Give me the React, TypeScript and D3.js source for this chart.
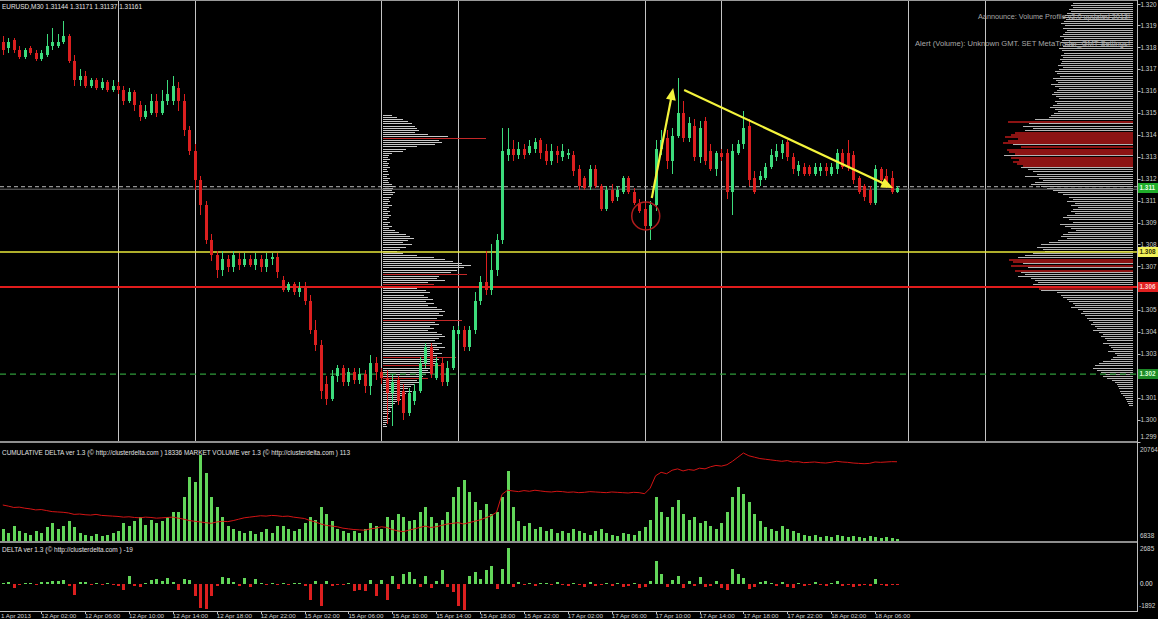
import React from "react";
import * as d3 from "d3";

// ---------- DATA ----------
const opens = [
  1.3186,1.3183,1.3187,1.3182,1.3179,1.3183,1.3181,1.3178,1.3180,1.3184,1.3184,1.3186,1.3189,
  1.3177,1.3168,1.3170,1.3165,1.3168,1.3164,1.3167,1.3163,1.3165,1.3163,1.3158,1.3162,1.3156,1.3150,1.3152,1.3158,1.3152,1.3158,1.3158,1.3164,
  1.3158,1.3144,1.3134,1.3120,1.3108,1.3091,1.3084,1.3077,1.3082,1.3078,1.3082,1.3079,1.3082,1.3079,1.3082,1.3078,1.3082,1.3083,
  1.3072,1.3067,1.3070,1.3066,1.3068,1.3062,1.3048,1.3041,1.3022,1.3015,1.3026,1.3030,1.3023,1.3028,1.3024,1.3027,
  1.3021,1.3032,1.3028,1.3025,1.3018,1.3024,1.3019,1.3008,1.3014,1.3019,1.3032,1.3040,1.3025,1.3032,1.3023,1.3030,1.3046,1.3048,1.3040,1.3048,1.3062,1.3071,1.3067,1.3077,
  1.3091,1.3132,1.3135,1.3132,1.3135,1.3133,1.3135,1.3139,1.3134,1.3129,1.3134,
  1.3131,1.3132,1.3132,1.3125,1.3121,1.3117,1.3125,1.3117,1.3106,1.3115,1.3112,1.3114,1.3121,1.3114,1.3109,1.3106,
  1.3098,1.3108,1.3135,1.3140,1.3129,1.3141,1.3152,1.3140,1.3146,1.3131,1.3148,1.3134,1.3125,1.3133,1.3133,1.3114,1.3133,1.3137,1.3146,1.3121,
  1.3120,1.3121,1.3126,1.3131,1.3133,1.3138,1.3131,1.3124,1.3126,1.3126,1.3123,1.3124,1.3126,1.3123,1.3125,1.3133,1.3133,1.3132,1.3121,1.3117,1.3115,1.3109,1.3125,1.3122,1.3121,1.31144,
];
const highs = [
  1.3189,1.3188,1.3188,1.3184,1.3183,1.3184,1.3182,1.3182,1.3190,1.3193,1.3190,1.3196,1.3190,
  1.3180,1.3173,1.3172,1.3169,1.3169,1.3169,1.3168,1.3168,1.3167,1.3165,1.3164,1.3163,1.3158,1.3156,1.3161,1.3161,1.3163,1.3168,1.3170,1.3167,
  1.3161,1.3146,1.3137,1.3122,1.3110,1.3094,1.3086,1.3086,1.3084,1.3086,1.3085,1.3085,1.3084,1.3085,1.3084,1.3085,1.3085,1.3085,
  1.3074,1.3071,1.3071,1.3071,1.3071,1.3065,1.3053,1.3043,1.3026,1.3029,1.3031,1.3031,1.3030,1.3030,1.3030,1.3029,
  1.3036,1.3035,1.3030,1.3029,1.3027,1.3026,1.3022,1.3020,1.3022,1.3035,1.3042,1.3042,1.3035,1.3035,1.3033,1.3050,1.3050,1.3050,1.3050,1.3066,1.3074,1.3086,1.3089,1.3094,
  1.3145,1.3145,1.3139,1.3138,1.3137,1.3139,1.3140,1.3140,1.3137,1.3137,1.3136,
  1.3137,1.3135,1.3134,1.3127,1.3122,1.3127,1.3127,1.3118,1.3117,1.3118,1.3117,1.3122,1.3122,1.3116,1.3111,1.3109,
  1.3110,1.3139,1.3144,1.3144,1.3145,1.3169,1.3158,1.3150,1.3149,1.3148,1.3150,1.3137,1.3134,1.3135,1.3135,1.3137,1.3139,1.3153,1.3149,1.3124,
  1.3124,1.3128,1.3135,1.3137,1.3139,1.3139,1.3133,1.3129,1.3128,1.3127,1.3128,1.3128,1.3128,1.3128,1.3135,1.3135,1.3139,1.3134,1.3122,1.3118,1.3117,1.3127,1.3126,1.3125,1.3124,1.31171,
];
const lows = [
  1.3180,1.3181,1.3181,1.3178,1.3178,1.3180,1.3177,1.3177,1.3179,1.3182,1.3183,1.3185,1.3176,
  1.3165,1.3165,1.3164,1.3164,1.3163,1.3163,1.3162,1.3162,1.3161,1.3156,1.3157,1.3153,1.3148,1.3149,1.3151,1.3150,1.3151,1.3156,1.3156,1.3153,
  1.3141,1.3132,1.3115,1.3103,1.3089,1.3081,1.3073,1.3074,1.3076,1.3076,1.3077,1.3078,1.3078,1.3077,1.3076,1.3076,1.3079,1.3073,
  1.3066,1.3066,1.3065,1.3064,1.3060,1.3046,1.3038,1.3015,1.3012,1.3014,1.3023,1.3021,1.3021,1.3022,1.3022,1.3018,
  1.3017,1.3024,1.3022,1.3003,1.3002,1.3012,1.3005,1.3007,1.3012,1.3018,1.3030,1.3025,1.3024,1.3021,1.3021,1.3029,1.3043,1.3038,1.3038,1.3046,1.3060,1.3065,1.3065,1.3074,
  1.3089,1.3129,1.3129,1.3130,1.3130,1.3132,1.3133,1.3130,1.3127,1.3127,1.3128,
  1.3129,1.3130,1.3122,1.3115,1.3115,1.3115,1.3116,1.3105,1.3105,1.3109,1.3110,1.3113,1.3113,1.3108,1.3104,1.3096,
  1.3091,1.3105,1.3132,1.3125,1.3123,1.3140,1.3138,1.3138,1.3129,1.3128,1.3127,1.3124,1.3122,1.3129,1.3111,1.3103,1.3132,1.3135,1.3117,1.3113,
  1.3117,1.3120,1.3125,1.3129,1.3130,1.3129,1.3123,1.3122,1.3122,1.3122,1.3122,1.3122,1.3122,1.3122,1.3123,1.3125,1.3124,1.3118,1.3113,1.3110,1.3108,1.3108,1.3118,1.3116,1.3113,1.31137,
];
const closes = [
  1.3182,1.3186,1.3182,1.3179,1.3182,1.3181,1.3178,1.3181,1.3184,1.3186,1.3186,1.3189,1.3177,
  1.3168,1.3170,1.3165,1.3168,1.3164,1.3167,1.3163,1.3165,1.3163,1.3158,1.3162,1.3156,1.3150,1.3153,1.3158,1.3152,1.3158,1.3161,1.3165,1.3158,
  1.3144,1.3134,1.3120,1.3108,1.3091,1.3084,1.3077,1.3082,1.3078,1.3084,1.3079,1.3082,1.3079,1.3082,1.3078,1.3082,1.3083,1.3076,
  1.3067,1.3070,1.3066,1.3068,1.3062,1.3048,1.3041,1.3019,1.3015,1.3026,1.3030,1.3023,1.3028,1.3024,1.3027,1.3021,
  1.3032,1.3028,1.3025,1.3018,1.3023,1.3014,1.3008,1.3018,1.3019,1.3032,1.3040,1.3027,1.3032,1.3023,1.3030,1.3048,1.3048,1.3040,1.3048,1.3062,1.3071,1.3067,1.3077,1.3091,
  1.3134,1.3135,1.3132,1.3135,1.3132,1.3136,1.3138,1.3133,1.3129,1.3134,1.3132,
  1.3134,1.3133,1.3124,1.3117,1.3116,1.3125,1.3117,1.3106,1.3115,1.3110,1.3115,1.3121,1.3114,1.3109,1.3105,1.3098,
  1.3108,1.3135,1.3139,1.3129,1.3141,1.3152,1.3140,1.3147,1.3131,1.3145,1.3129,1.3125,1.3133,1.3131,1.3114,1.3134,1.3137,1.3145,1.3120,1.3114,
  1.3122,1.3126,1.3132,1.3134,1.3137,1.3131,1.3125,1.3127,1.3123,1.3123,1.3126,1.3126,1.3124,1.3126,1.3133,1.3126,1.3126,1.3120,1.3114,1.3112,1.3109,1.3125,1.3120,1.3117,1.3114,1.31161,
];

// MARKET VOLUME (per bar)
const volumes = [
  120,80,150,100,80,60,100,80,140,180,120,150,200,140,80,60,50,70,50,60,80,
  100,180,150,200,250,160,220,180,200,250,300,
  300,450,650,600,880,700,450,350,250,150,
  120,100,80,100,70,90,120,80,150,
  150,120,100,120,180,
  250,220,350,280,200,120,100,80,100,80,120,
  180,150,120,250,220,280,250,200,220,
  300,350,250,180,220,300,450,550,620,500,400,320,380,280,300,450,720,350,200,150,180,120,140,100,120,80,
  100,80,120,100,80,60,100,120,80,60,50,80,70,60,100,140,
  220,450,300,250,350,420,280,220,250,180,200,150,120,180,
  300,450,550,480,400,280,200,140,120,100,150,120,100,80,60,50,60,40,50,40,60,50,40,50,40,30,50,40,30,40,30,20,
];

// CUMULATIVE DELTA (per bar)
const cumDelta = [
  12060,11900,11700,11750,
  11600,11500,11350,11400,11250,11100,11050,
  11000,10900,10700,10750,10650,10600,10700,10550,
  10500,10450,10400,10300,10350,10250,10200,10300,10250,10150,10200,10250,10300,10150,
  10000,9800,9700,9600,9500,9400,9600,9700,9650,
  9800,10000,10200,10300,10400,10500,10450,10550,10500,10400,10450,10300,10200,10100,
  9800,9600,9300,9100,9000,8900,8700,8600,8500,8450,8400,
  8600,8700,8900,8800,8500,8300,8200,8400,8600,
  8800,9000,8800,8900,9100,9300,9400,9500,9300,9500,9700,9900,10200,10500,11000,
  13600,14200,
  14100,14000,14150,14050,14200,14100,14000,13950,14050,14000,13900,13950,13850,13900,14000,13950,13900,13850,13950,13900,13850,13800,13900,13850,13700,
  14500,16300,16800,16600,17100,17300,
  17000,17200,17100,17400,17300,17600,17800,17700,
  17900,18400,19000,19600,19200,19000,
  18800,18700,18600,18500,18400,18500,18300,18350,18200,18250,18300,18200,18150,18250,18400,18300,18250,18150,18100,18050,18100,18300,18250,18300,18350,18336,
];

// DELTA (per bar)
const deltas = [
  70,140,-280,-30,60,20,-70,140,140,210,210,280,-140,-760,140,140,-70,70,-70,70,
  -70,-140,-420,555,-140,-210,70,280,350,210,415,140,-415,350,280,-830,-1660,-1730,-830,-140,
  485,415,140,-140,415,-210,350,70,-70,70,-70,30,-70,70,70,-140,-1110,210,-1520,210,
  -140,-70,-70,70,-485,-415,-485,280,-830,280,-1110,555,-350,690,830,350,-210,555,-280,210,
  970,-210,-555,-1520,-1800,555,830,350,970,1250,-350,1040,2490,-210,
  140,-70,70,-140,70,30,-70,140,-70,-140,70,-70,-210,140,-140,-70,70,-140,70,-210,-140,70,-280,-210,
  210,1590,690,-210,280,555,-280,210,-140,485,-210,-140,210,-280,-415,1040,690,415,-350,-210,
  140,210,70,-140,140,-210,-280,70,-140,-70,140,-70,-140,70,210,-140,-70,-210,-140,-70,-140,350,-70,-140,-70,-19,
];

// Volume profile inside the chart (levels 1.3151 down to 1.3002, one pip each)
const midProfileTop = 1.3151;
const midProfile = [
  8,12,18,22,26,28,30,32,28,40,
  58,92,50,52,46,30,20,18,8,5,
  4,6,3,5,4,6,3,4,5,3,
  6,4,5,8,10,9,8,10,9,7,
  5,6,4,8,5,3,6,4,7,5,
  3,6,4,8,5,10,14,20,24,27,
  22,18,26,20,15,12,18,30,45,55,
  62,70,78,72,66,60,75,50,48,55,
  40,45,35,30,38,42,36,40,44,38,
  45,40,48,52,55,50,53,48,70,46,
  50,42,45,40,48,52,55,50,46,52,
  48,55,50,45,52,48,65,50,48,46,
  52,44,40,42,38,35,40,30,32,28,
  25,22,26,20,18,15,16,12,10,8,
  9,6,7,5,4,6,3,4,2,3,
];
const midRedLevels = [1.314, 1.3075, 1.307, 1.3053, 1.3035, 1.3031, 1.3025];

// Volume profile at the right edge (levels 1.3206 down to 1.3012)
const rightProfileTop = 1.3206;
const rightProfile = [
  58,60,62,60,64,62,
  66,68,70,67,69,72,68,70,66,
  68,70,73,69,71,72,68,70,74,71,69,72,70,73,71,
  72,75,70,74,78,76,73,80,77,75,82,78,74,76,79,81,77,74,78,
  76,80,83,78,75,79,82,84,
  98,125,104,110,100,108,
  118,122,128,115,125,130,120,112,126,124,118,129,122,114,120,116,110,112,
  105,100,96,108,94,90,98,102,92,
  86,80,75,70,64,60,66,58,62,55,60,
  62,58,66,70,64,60,73,68,62,57,65,70,72,66,75,
  84,92,96,90,88,
  100,108,115,124,120,110,122,105,118,112,108,115,102,98,95,100,
  96,94,92,
  76,72,70,66,64,60,58,62,55,50,52,48,46,
  44,40,42,38,36,40,34,30,32,28,26,30,24,22,20,25,18,16,20,22,
  30,34,38,40,36,32,28,30,26,
  21,18,16,15,14,13,12,
  10,8,7,6,5,4,
];
const rightRedLevels = [
  1.3148, 1.3143, 1.3142, 1.3141, 1.3140, 1.3139, 1.3138, 1.3136, 1.3135, 1.3134, 1.3133,
  1.3131, 1.3130, 1.3129, 1.3128, 1.3127, 1.3082, 1.3081, 1.3079, 1.3077, 1.3068,
];

// Price axis
const priceTicks = [
  1.32045, 1.3194, 1.31835, 1.3173, 1.31625, 1.3152, 1.31415, 1.3131, 1.31205, 1.311, 1.30995,
  1.3089, 1.30785, 1.3068, 1.30575, 1.3047, 1.30365, 1.3026, 1.30155, 1.3005, 1.29945,
];
// Horizontal levels
const askPrice = 1.31167;
const bidPrice = 1.31155;
const lastPrice = 1.31161;
const yellowLevel = 1.30854;
const redLevel = 1.30686;
const greenLevel = 1.30269;

// Separators (bar index)
const separatorBars = [21, 35, 69, 83, 117, 131, 165, 179];

// Time axis
const dateLabelBars = [7, 15, 23, 31, 39, 47, 55, 63, 71, 79, 87, 95, 103, 111, 119, 127, 135, 143, 151, 159];
const dateLabels = [
  "12 Apr 02:00", "12 Apr 06:00", "12 Apr 10:00", "12 Apr 14:00", "12 Apr 18:00", "12 Apr 22:00",
  "15 Apr 02:00", "15 Apr 06:00", "15 Apr 10:00", "15 Apr 14:00", "15 Apr 18:00", "15 Apr 22:00",
  "17 Apr 02:00", "17 Apr 06:00", "17 Apr 10:00", "17 Apr 14:00", "17 Apr 18:00", "17 Apr 22:00",
  "18 Apr 02:00", "18 Apr 06:00",
];
const firstDateLabel = "1 Apr 2013";

// Drawn annotations: [bar, price]
const arrowFrom = [[118.3, 1.31113], [124.2, 1.31631]];
const arrowTo = [[122.2, 1.3164], [162.3, 1.31161]];
const circleAt = [117.2, 1.31027];

// Panel scale labels
const cdMax = 20764, cdMin = 6838;
const deltaMax = 2685, deltaMin = -1892;

const headerText = "EURUSD,M30  1.31144 1.31171 1.31137 1.31161";
const cdHeader = "CUMULATIVE DELTA ver 1.3 (\u00A9 http://clusterdelta.com ) 18336  MARKET VOLUME ver 1.3 (\u00A9 http://clusterdelta.com ) 113";
const deltaHeader = "DELTA ver 1.3 (\u00A9 http://clusterdelta.com ) -19";
const announceText = "Aannounce: Volume Profile v2.0 updated 2013!";
const alertText = "Alert (Volume): Unknown GMT. SET MetaTrader_GMT Settings!";

// ---------- STYLE ----------
const FONT = "'Liberation Sans', Arial, sans-serif";
const UP = "#3ddc7c";
const DOWN = "#dc1f1f";
const VOL = "#62d65a";
const AXIS = "#bdbdbd";

const W = 1158, H = 619;
const AXIS_X = 1137.5;

const cut = (p: number) => p.toFixed(5).slice(0, 5);

export default function App() {
  const x = d3.scaleLinear().domain([0, 163]).range([2.8, 897]);
  const y = d3.scaleLinear().domain([1.29948, 1.32062]).range([441, 0]);
  const vY = d3.scaleLinear().domain([0, 1000]).range([541, 443.3]);
  const cdY = d3.scaleLinear().domain([cdMin, cdMax]).range([541, 445]);
  const dY = d3.scaleLinear().domain([deltaMin, deltaMax]).range([611, 545]);
  const midProf = d3.scaleLinear().domain([0, 100]).range([0, 112]);
  const rightProf = d3.scaleLinear().domain([0, 100]).range([0, 100]);

  const pip = 0.0001;
  const midSet = new Set(midRedLevels.map((p) => Math.round(p / pip)));
  const rightSet = new Set(rightRedLevels.map((p) => Math.round(p / pip)));

  const cdLine = d3
    .line<number>()
    .x((_, i) => x(i))
    .y((d) => cdY(d));

  const midX0 = x(69) + 2;
  const rightX1 = AXIS_X - 4.5;

  const arrowHead = (fx: number, fy: number, tx: number, ty: number) => {
    const ang = Math.atan2(ty - fy, tx - fx);
    const L = 12, Wd = 5;
    const bx = tx - L * Math.cos(ang), by = ty - L * Math.sin(ang);
    const px = -Math.sin(ang) * Wd, py = Math.cos(ang) * Wd;
    return `${tx},${ty} ${bx + px},${by + py} ${bx - px},${by - py}`;
  };

  const hiLabel = (price: number, bg: string, fg: string) => (
    <g key={"hl" + price}>
      <rect x={1138} y={Math.round(y(price)) - 5} width={20} height={10} fill={bg} />
      <text x={1139.5} y={y(price)} dy="0.35em" fontSize={6.4} fill={fg} fontFamily={FONT} fontWeight="bold">
        {cut(price)}
      </text>
    </g>
  );

  return (
    <div style={{ width: W, height: H, background: "#000", overflow: "hidden" }}>
      <style>{`html,body{margin:0;padding:0;background:#000;overflow:hidden}`}</style>
      <svg width={W} height={H} style={{ display: "block", background: "#000" }}>
        <rect x={0} y={0} width={W} height={H} fill="#000" />

        {/* separators in main panel */}
        {separatorBars.map((b) => (
          <line key={"s" + b} x1={Math.round(x(b)) + 0.5} x2={Math.round(x(b)) + 0.5} y1={0} y2={441} stroke="#c4c4c4" strokeWidth={1} />
        ))}

        {/* middle volume profile */}
        <g shapeRendering="crispEdges">
          {midProfile.map((v, i) => {
            const p = midProfileTop - i * pip;
            const red = midSet.has(Math.round(p / pip));
            return (
              <rect key={"m" + i} x={midX0} y={Math.round(y(p))} width={midProf(v)} height={1} fill={red ? "#c42828" : "#c8c8c8"} />
            );
          })}
        </g>

        {/* right volume profile */}
        <g shapeRendering="crispEdges">
          {rightProfile.map((v, i) => {
            const p = rightProfileTop - i * pip;
            const red = rightSet.has(Math.round(p / pip));
            return (
              <rect key={"r" + i} x={rightX1 - rightProf(v)} y={Math.round(y(p))} width={rightProf(v)} height={red ? 2 : 1} fill={red ? "#8c1313" : "#b4b4b4"} />
            );
          })}
        </g>

        {/* horizontal levels */}
        <line x1={0} x2={AXIS_X} y1={y(askPrice)} y2={y(askPrice)} stroke="#b8b8b8" strokeDasharray="4,3" strokeWidth={1} />
        <line x1={0} x2={AXIS_X} y1={y(bidPrice)} y2={y(bidPrice)} stroke="#6e6e6e" strokeWidth={1} />
        <line x1={0} x2={AXIS_X} y1={y(yellowLevel)} y2={y(yellowLevel)} stroke="#e8e83a" strokeWidth={1.6} />
        <line x1={0} x2={AXIS_X} y1={y(redLevel)} y2={y(redLevel)} stroke="#e01c1c" strokeWidth={2} />
        <line x1={0} x2={AXIS_X} y1={y(greenLevel)} y2={y(greenLevel)} stroke="#2f9a3a" strokeWidth={1.2} strokeDasharray="6,4" />

        {/* candles */}
        <g shapeRendering="crispEdges">
          {closes.map((c, i) => {
            const o = opens[i];
            const col = c >= o ? UP : DOWN;
            const cx = Math.round(x(i));
            const yt = y(Math.max(o, c));
            const yb = y(Math.min(o, c));
            return (
              <g key={"c" + i}>
                <rect x={cx} y={y(highs[i])} width={1} height={y(lows[i]) - y(highs[i])} fill={col} />
                <rect x={cx - 1} y={yt} width={3} height={Math.max(1, yb - yt)} fill={col} />
              </g>
            );
          })}
        </g>

        {/* annotations */}
        {arrowFrom.map((f, k) => {
          const fx = x(f[0]), fy = y(f[1]);
          const tx = x(arrowTo[k][0]), ty = y(arrowTo[k][1]);
          const ang = Math.atan2(ty - fy, tx - fx);
          return (
            <g key={"a" + k}>
              <line x1={fx} y1={fy} x2={tx - 8 * Math.cos(ang)} y2={ty - 8 * Math.sin(ang)} stroke="#f4f43c" strokeWidth={2.2} />
              <polygon points={arrowHead(fx, fy, tx, ty)} fill="#f4f43c" />
            </g>
          );
        })}
        <circle cx={x(circleAt[0])} cy={y(circleAt[1])} r={14} fill="none" stroke="#b01c1c" strokeWidth={1.5} />

        {/* texts main */}
        <text x={2} y={9} fontSize={7} fill="#e6e6e6" fontFamily={FONT} textLength={140} lengthAdjust="spacingAndGlyphs">{headerText}</text>
        <text x={978} y={19} fontSize={7} fill="#a8a8a8" fontFamily={FONT} textLength={152} lengthAdjust="spacingAndGlyphs">{announceText}</text>
        <text x={915} y={46} fontSize={7} fill="#a8a8a8" fontFamily={FONT} textLength={215} lengthAdjust="spacingAndGlyphs">{alertText}</text>

        {/* CD / Volume panel */}
        <g shapeRendering="crispEdges">
          {volumes.map((v, i) => (
            <rect key={"v" + i} x={Math.round(x(i)) - 1} y={vY(v)} width={3} height={541 - vY(v)} fill={VOL} />
          ))}
        </g>
        <path d={cdLine(cumDelta) || ""} fill="none" stroke="#d41414" strokeWidth={1} />
        <text x={2} y={455} fontSize={7} fill="#e0e0e0" fontFamily={FONT} textLength={348} lengthAdjust="spacingAndGlyphs">{cdHeader}</text>

        {/* Delta panel */}
        <g shapeRendering="crispEdges">
          {deltas.map((d, i) => {
            const y0 = dY(0), y1 = dY(d);
            const top = Math.min(y0, y1);
            return (
              <rect key={"d" + i} x={Math.round(x(i)) - 1} y={d >= 0 ? top : y0} width={3} height={Math.max(1, Math.abs(y1 - y0))} fill={d >= 0 ? VOL : DOWN} />
            );
          })}
        </g>
        <text x={2} y={552} fontSize={7} fill="#e0e0e0" fontFamily={FONT} textLength={131} lengthAdjust="spacingAndGlyphs">{deltaHeader}</text>

        {/* frame / separators */}
        <g shapeRendering="crispEdges">
          <rect x={0} y={0} width={AXIS_X} height={1} fill="#9a9a9a" />
          <rect x={0} y={441} width={AXIS_X} height={2} fill="#8e8e8e" />
          <rect x={0} y={541} width={AXIS_X} height={2} fill="#8e8e8e" />
          <rect x={0} y={611} width={AXIS_X} height={1} fill={AXIS} />
          <rect x={Math.floor(AXIS_X)} y={0} width={1} height={612} fill={AXIS} />
        </g>

        {/* price axis */}
        {priceTicks.map((p) => (
          <g key={"t" + p}>
            <line x1={AXIS_X} x2={AXIS_X + 3} y1={Math.round(y(p)) + 0.5} y2={Math.round(y(p)) + 0.5} stroke={AXIS} />
            <text x={1140.5} y={Math.min(Math.max(y(p), 5), 437)} dy="0.35em" fontSize={6.4} fill="#d0d0d0" fontFamily={FONT}>{cut(p)}</text>
          </g>
        ))}
        {hiLabel(lastPrice, "#1fae2a", "#eaffea")}
        {hiLabel(yellowLevel, "#f2f25a", "#303000")}
        {hiLabel(redLevel, "#e02020", "#ffd0d0")}
        {hiLabel(greenLevel, "#1c8a26", "#d8ffd8")}

        {/* panel scales */}
        <text x={1140} y={450} dy="0.35em" fontSize={6.4} fill="#d0d0d0" fontFamily={FONT}>{cdMax}</text>
        <text x={1140} y={536} dy="0.35em" fontSize={6.4} fill="#d0d0d0" fontFamily={FONT}>{cdMin}</text>
        <text x={1140} y={549} dy="0.35em" fontSize={6.4} fill="#d0d0d0" fontFamily={FONT}>{deltaMax}</text>
        <text x={1140} y={dY(0)} dy="0.35em" fontSize={6.4} fill="#e8e8e8" fontFamily={FONT}>0.00</text>
        <text x={1139} y={606} dy="0.35em" fontSize={6.4} fill="#d0d0d0" fontFamily={FONT}>{deltaMin}</text>

        {/* time axis */}
        <text x={1} y={617.5} fontSize={6.2} fill="#d0d0d0" fontFamily={FONT}>{firstDateLabel}</text>
        {dateLabelBars.map((b, k) => (
          <g key={"dl" + b}>
            <line x1={Math.round(x(b)) + 0.5} x2={Math.round(x(b)) + 0.5} y1={612} y2={614} stroke={AXIS} />
            <text x={x(b)} y={617.5} fontSize={6.2} fill="#d0d0d0" fontFamily={FONT}>{dateLabels[k]}</text>
          </g>
        ))}
      </svg>
    </div>
  );
}
